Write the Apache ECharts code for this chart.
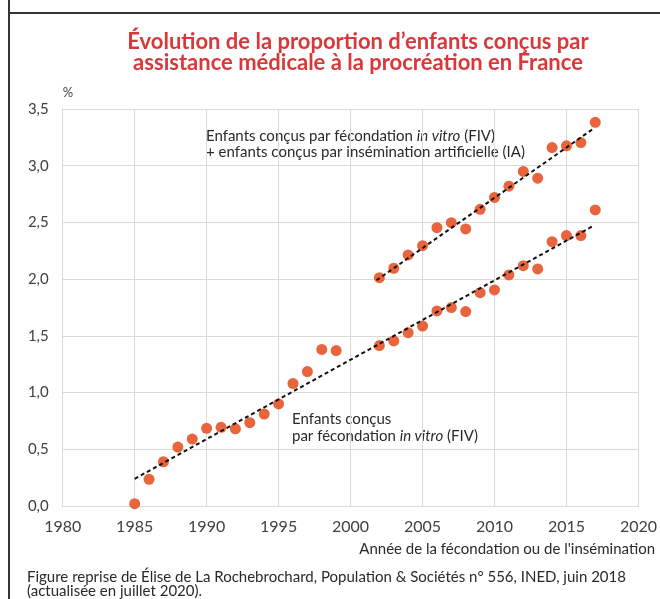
<!DOCTYPE html>
<html>
<head>
<meta charset="utf-8">
<script src="https://cdn.jsdelivr.net/npm/echarts@6/dist/echarts.min.js"></script>
<style>
html,body{margin:0;padding:0;background:#fff;}
#chart{width:660px;height:599px;}
</style>
</head>
<body>
<div id="chart"></div>
<script>
// Data
const yearsFIV = [1985,1986,1987,1988,1989,1990,1991,1992,1993,1994,1995,1996,1997,1998,1999,2002,2003,2004,2005,2006,2007,2008,2009,2010,2011,2012,2013,2014,2015,2016,2017];
const valuesFIV = [0.02,0.235,0.39,0.52,0.59,0.685,0.694,0.68,0.735,0.81,0.90,1.08,1.185,1.38,1.37,1.414,1.455,1.528,1.587,1.72,1.749,1.714,1.881,1.905,2.037,2.119,2.09,2.33,2.384,2.384,2.61];
const yearsTotal = [2002,2003,2004,2005,2006,2007,2008,2009,2010,2011,2012,2013,2014,2015,2016,2017];
const valuesTotal = [2.013,2.096,2.213,2.295,2.454,2.498,2.443,2.616,2.72,2.82,2.95,2.89,3.16,3.175,3.204,3.383];
const trendFIV = [[1985,0.24],[2016.8,2.465]];
const trendTotal = [[2001.8,1.99],[2016.8,3.32]];
const xTicks = [1980,1985,1990,1995,2000,2005,2010,2015,2020];
const yTicks = [0,0.5,1,1.5,2,2.5,3,3.5];

const FONT = 'Lato, "Noto Sans", sans-serif';
const chart = echarts.init(document.getElementById('chart'), null, {renderer:'canvas'});

const zip = (xs, ys) => xs.map((x,i)=>[x, ys[i]]);

const option = {
  animation: false,
  backgroundColor: '#ffffff',
  textStyle: {fontFamily: FONT},
  title: {
    text: 'Évolution de la proportion d\u2019enfants conçus par\nassistance médicale à la procréation en France',
    left: 353, top: 26, textAlign: 'center',
    textStyle: {color:'#d9383a', fontFamily: FONT, fontSize: 22, fontWeight: 'bold', lineHeight: 21}
  },
  grid: {left: 62.7, right: 17.3, top: 109, bottom: 93, containLabel: false},
  xAxis: {
    type: 'value', min: xTicks[0], max: xTicks[xTicks.length-1], interval: 5,
    axisLine: {show: true, lineStyle: {color:'#d9d9d9'}},
    axisTick: {show: false},
    axisLabel: {color:'#404040', fontSize: 16, fontFamily: FONT, margin: 13,
      formatter: v => String(v)},
    splitLine: {show: true, lineStyle: {color:'#d9d9d9', width: 1}}
  },
  yAxis: {
    type: 'value', min: yTicks[0], max: yTicks[yTicks.length-1], interval: 0.5,
    name: '%', nameLocation: 'end', nameGap: 10,
    nameTextStyle: {color:'#404040', fontSize: 13, fontFamily: FONT, align: 'left', padding: [0,0,0,0]},
    axisLine: {show: true, lineStyle: {color:'#d9d9d9'}},
    axisTick: {show: false},
    axisLabel: {color:'#404040', fontSize: 15, fontFamily: FONT, margin: 14,
      formatter: v => v.toFixed(1).replace('.', ',')},
    splitLine: {show: true, lineStyle: {color:'#d9d9d9', width: 1}}
  },
  series: [
    {type:'line', data: trendFIV, symbol:'none', z: 3,
      lineStyle:{color:'#111', width: 2, type:[4,3]}},
    {type:'line', data: trendTotal, symbol:'none', z: 3,
      lineStyle:{color:'#111', width: 2, type:[4,3]}},
    {type:'scatter', data: zip(yearsFIV, valuesFIV), symbolSize: 11, z: 2,
      itemStyle:{color:'#e8643c', opacity: 1}},
    {type:'scatter', data: zip(yearsTotal, valuesTotal), symbolSize: 11, z: 2,
      itemStyle:{color:'#e8643c', opacity: 1}}
  ],
  graphic: [
    {type:'line', shape:{x1:9, y1:0, x2:9, y2:599}, style:{stroke:'#333', lineWidth:2}, silent:true},
    {type:'line', shape:{x1:9, y1:13, x2:660, y2:13}, style:{stroke:'#333', lineWidth:2}, silent:true},
    {type:'text', left: 206, top: 128, style:{
      text: 'Enfants conçus par fécondation {i|in vitro} (FIV)\n+ enfants conçus par insémination artificielle (IA)',
      fill:'#2a2a2a', font: '15px ' + FONT, lineHeight: 16,
      rich: {i:{fontStyle:'italic', fontSize:15, fontFamily: FONT, fill:'#2a2a2a'}}
    }},
    {type:'text', left: 292, top: 411, style:{
      text: 'Enfants conçus\npar fécondation {i|in vitro} (FIV)',
      fill:'#2a2a2a', font: '15px ' + FONT, lineHeight: 17,
      rich: {i:{fontStyle:'italic', fontSize:15, fontFamily: FONT, fill:'#2a2a2a'}}
    }},
    {type:'text', right: 5, top: 542, style:{
      text: 'Année de la fécondation ou de l\'insémination',
      fill:'#2a2a2a', font: '15px ' + FONT, align:'right'
    }},
    {type:'text', left: 27, top: 570, style:{
      text: 'Figure reprise de Élise de La Rochebrochard, Population & Sociétés n° 556, INED, juin 2018\n(actualisée en juillet 2020).',
      fill:'#2a2a2a', font: '15px ' + FONT, lineHeight: 14
    }}
  ]
};
chart.setOption(option);
</script>
</body>
</html>
